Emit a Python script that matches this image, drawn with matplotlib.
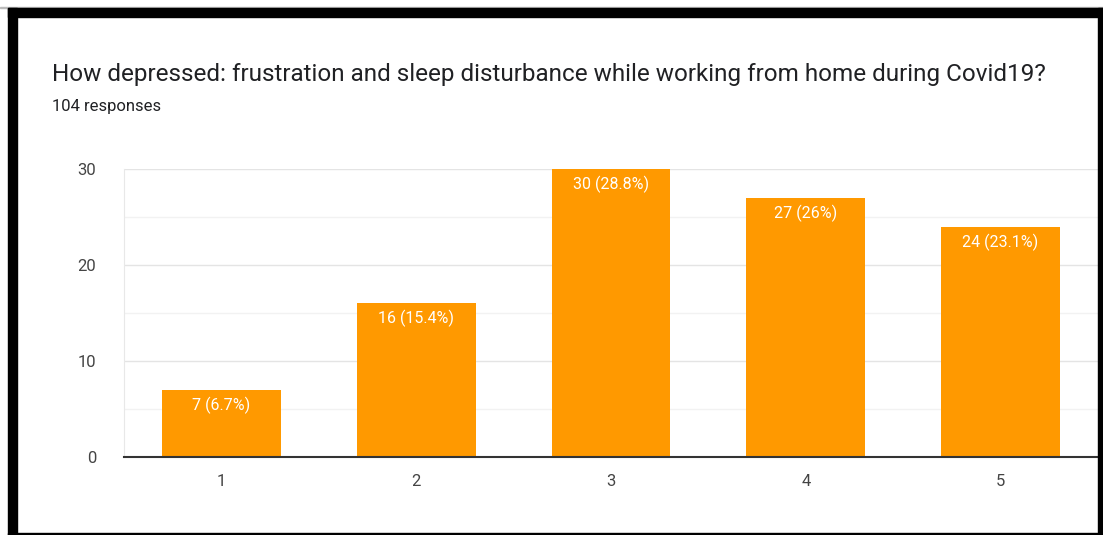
import matplotlib.pyplot as plt
from matplotlib.patches import Rectangle
import numpy as np

plt.rcParams['font.family'] = ['Roboto', 'DejaVu Sans']

# data
categories = ['1', '2', '3', '4', '5']
counts = [7, 16, 30, 27, 24]
percents = ['6.7%', '15.4%', '28.8%', '26%', '23.1%']
title = 'How depressed: frustration and sleep disturbance while working from home during Covid19?'
subtitle = '104 responses'

W, H = 1103, 535
fig = plt.figure(figsize=(W / 100, H / 100), dpi=100)

# plot area in pixels
left, right, top, bottom = 124, 1098, 169, 457
ax = fig.add_axes([left / W, 1 - bottom / H, (right - left) / W, (bottom - top) / H])

x = np.arange(1, len(categories) + 1)
bars = ax.bar(x, counts, width=0.61, color='#ff9900', zorder=3)

for b, c, p in zip(bars, counts, percents):
    ax.text(b.get_x() + b.get_width() / 2, c - 1.6, f'{c} ({p})', ha='center', va='center',
            color='white', fontsize=11.5, zorder=4)

ax.set_xlim(0.5, 5.5)
ax.set_ylim(0, 30)
ax.set_xticks(x)
ax.set_xticklabels(categories)
ax.set_yticks([0, 10, 20, 30])
ax.set_yticks([5, 15, 25], minor=True)
ax.grid(axis='y', which='major', color='#e4e4e4', lw=1, zorder=0)
ax.grid(axis='y', which='minor', color='#f2f2f2', lw=1, zorder=0)
ax.tick_params(axis='both', which='both', length=0, labelsize=12, labelcolor='#444444')
ax.tick_params(axis='y', pad=20)
ax.tick_params(axis='x', pad=12)
for s in ['top', 'right']:
    ax.spines[s].set_visible(False)
ax.spines['left'].set_color('#e8e8e8')
ax.spines['bottom'].set_color('#333333')
ax.spines['bottom'].set_linewidth(1.5)
ax.spines['bottom'].set_zorder(5)

fig.text(52 / W, 1 - 74 / H, title, fontsize=17.5, color='#202124', va='center', ha='left')
fig.text(52 / W, 1 - 107 / H, subtitle, fontsize=12, color='#202124', va='center', ha='left')

# black frame around the screenshot
def px_rect(x0, y0, x1, y1, color):
    fig.patches.append(Rectangle((x0 / W, 1 - y1 / H), (x1 - x0) / W, (y1 - y0) / H,
                                 transform=fig.transFigure, color=color, zorder=10))

px_rect(0, 7, W, 8, '#bbbbbb')
px_rect(8, 8, W, 17, 'black')
px_rect(8, 8, 17, H, 'black')
px_rect(1098, 8, W, H, 'black')
px_rect(8, 533, W, H, 'black')

fig.savefig('out.png', dpi=100)
